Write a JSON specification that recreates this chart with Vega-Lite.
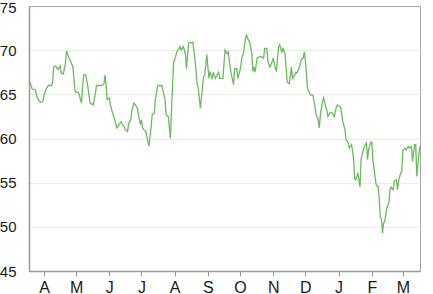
{
  "$schema": "https://vega.github.io/schema/vega-lite/v6.json",
  "width": 391,
  "height": 265,
  "autosize": {"type": "none"},
  "padding": {"left": 29, "top": 6, "right": 13, "bottom": 23},
  "background": "white",
  "config": {
    "view": {"stroke": "#a8a8a8", "strokeWidth": 1},
    "axis": {"labelFont": "Liberation Sans", "labelFontSize": 16, "labelColor": "#1a1a1a"}
  },
  "data": {"values": [
    {"d": "2015-03-18", "v": 66.5}, {"d": "2015-03-19", "v": 66.3}, {"d": "2015-03-21", "v": 65.6}, {"d": "2015-03-24", "v": 65.5},
    {"d": "2015-03-25", "v": 64.9}, {"d": "2015-03-27", "v": 64.3}, {"d": "2015-03-29", "v": 64.1}, {"d": "2015-03-31", "v": 64.2},
    {"d": "2015-04-01", "v": 64.9}, {"d": "2015-04-03", "v": 65.6}, {"d": "2015-04-05", "v": 66.0}, {"d": "2015-04-08", "v": 66.0},
    {"d": "2015-04-09", "v": 66.3}, {"d": "2015-04-10", "v": 68.1}, {"d": "2015-04-12", "v": 68.2}, {"d": "2015-04-14", "v": 67.8},
    {"d": "2015-04-16", "v": 68.2}, {"d": "2015-04-17", "v": 67.4}, {"d": "2015-04-19", "v": 67.3}, {"d": "2015-04-21", "v": 68.5},
    {"d": "2015-04-22", "v": 69.9}, {"d": "2015-04-24", "v": 69.2}, {"d": "2015-04-26", "v": 68.7}, {"d": "2015-04-28", "v": 68.1},
    {"d": "2015-04-30", "v": 65.3}, {"d": "2015-05-03", "v": 65.2}, {"d": "2015-05-04", "v": 64.9}, {"d": "2015-05-06", "v": 64.0},
    {"d": "2015-05-07", "v": 65.8}, {"d": "2015-05-08", "v": 67.2}, {"d": "2015-05-10", "v": 67.2}, {"d": "2015-05-12", "v": 65.8},
    {"d": "2015-05-14", "v": 64.0}, {"d": "2015-05-17", "v": 63.8}, {"d": "2015-05-19", "v": 65.1}, {"d": "2015-05-20", "v": 66.0},
    {"d": "2015-05-25", "v": 66.0}, {"d": "2015-05-27", "v": 66.2}, {"d": "2015-05-28", "v": 67.2}, {"d": "2015-05-29", "v": 66.0},
    {"d": "2015-05-30", "v": 64.4}, {"d": "2015-06-01", "v": 64.6}, {"d": "2015-06-02", "v": 63.8}, {"d": "2015-06-04", "v": 62.9},
    {"d": "2015-06-05", "v": 62.5}, {"d": "2015-06-07", "v": 61.7}, {"d": "2015-06-08", "v": 61.2}, {"d": "2015-06-10", "v": 61.6},
    {"d": "2015-06-12", "v": 61.9}, {"d": "2015-06-13", "v": 61.6}, {"d": "2015-06-15", "v": 61.3}, {"d": "2015-06-16", "v": 61.0},
    {"d": "2015-06-18", "v": 60.8}, {"d": "2015-06-19", "v": 61.7}, {"d": "2015-06-21", "v": 62.1}, {"d": "2015-06-22", "v": 63.2},
    {"d": "2015-06-24", "v": 64.0}, {"d": "2015-06-26", "v": 63.7}, {"d": "2015-06-27", "v": 63.5}, {"d": "2015-06-29", "v": 62.1},
    {"d": "2015-06-30", "v": 61.6}, {"d": "2015-07-01", "v": 62.1}, {"d": "2015-07-02", "v": 61.2}, {"d": "2015-07-03", "v": 61.0},
    {"d": "2015-07-05", "v": 60.8}, {"d": "2015-07-06", "v": 60.2}, {"d": "2015-07-08", "v": 59.1}, {"d": "2015-07-10", "v": 61.3},
    {"d": "2015-07-11", "v": 62.7}, {"d": "2015-07-13", "v": 62.9}, {"d": "2015-07-14", "v": 64.4}, {"d": "2015-07-16", "v": 65.9},
    {"d": "2015-07-17", "v": 66.0}, {"d": "2015-07-20", "v": 66.0}, {"d": "2015-07-23", "v": 64.4}, {"d": "2015-07-24", "v": 62.7},
    {"d": "2015-07-26", "v": 62.5}, {"d": "2015-07-28", "v": 60.0}, {"d": "2015-07-29", "v": 63.2}, {"d": "2015-07-31", "v": 68.7},
    {"d": "2015-08-01", "v": 68.9}, {"d": "2015-08-03", "v": 69.8}, {"d": "2015-08-04", "v": 70.0}, {"d": "2015-08-06", "v": 70.4},
    {"d": "2015-08-07", "v": 70.0}, {"d": "2015-08-09", "v": 70.4}, {"d": "2015-08-11", "v": 69.6}, {"d": "2015-08-12", "v": 67.9},
    {"d": "2015-08-14", "v": 70.8}, {"d": "2015-08-15", "v": 70.9}, {"d": "2015-08-17", "v": 70.8}, {"d": "2015-08-18", "v": 70.9},
    {"d": "2015-08-20", "v": 68.9}, {"d": "2015-08-22", "v": 66.1}, {"d": "2015-08-23", "v": 65.7}, {"d": "2015-08-25", "v": 63.4},
    {"d": "2015-08-26", "v": 64.7}, {"d": "2015-08-28", "v": 67.0}, {"d": "2015-08-29", "v": 67.2}, {"d": "2015-08-31", "v": 69.5},
    {"d": "2015-09-01", "v": 68.1}, {"d": "2015-09-02", "v": 66.8}, {"d": "2015-09-03", "v": 67.6}, {"d": "2015-09-05", "v": 66.7},
    {"d": "2015-09-06", "v": 67.5}, {"d": "2015-09-08", "v": 66.8}, {"d": "2015-09-11", "v": 67.5}, {"d": "2015-09-12", "v": 66.8},
    {"d": "2015-09-15", "v": 66.8}, {"d": "2015-09-17", "v": 70.0}, {"d": "2015-09-19", "v": 69.6}, {"d": "2015-09-20", "v": 69.8},
    {"d": "2015-09-22", "v": 67.9}, {"d": "2015-09-23", "v": 67.2}, {"d": "2015-09-25", "v": 66.1}, {"d": "2015-09-26", "v": 67.9},
    {"d": "2015-09-28", "v": 67.9}, {"d": "2015-09-29", "v": 66.8}, {"d": "2015-10-01", "v": 67.7}, {"d": "2015-10-03", "v": 69.3},
    {"d": "2015-10-04", "v": 69.5}, {"d": "2015-10-06", "v": 71.3}, {"d": "2015-10-07", "v": 71.7}, {"d": "2015-10-09", "v": 71.1},
    {"d": "2015-10-10", "v": 70.9}, {"d": "2015-10-12", "v": 69.6}, {"d": "2015-10-13", "v": 67.6}, {"d": "2015-10-14", "v": 68.1},
    {"d": "2015-10-15", "v": 67.5}, {"d": "2015-10-17", "v": 69.1}, {"d": "2015-10-20", "v": 69.3}, {"d": "2015-10-23", "v": 69.1},
    {"d": "2015-10-24", "v": 70.2}, {"d": "2015-10-26", "v": 70.2}, {"d": "2015-10-27", "v": 68.7}, {"d": "2015-10-29", "v": 68.1},
    {"d": "2015-10-31", "v": 68.7}, {"d": "2015-11-01", "v": 69.1}, {"d": "2015-11-03", "v": 67.9}, {"d": "2015-11-04", "v": 67.7},
    {"d": "2015-11-06", "v": 70.4}, {"d": "2015-11-07", "v": 70.6}, {"d": "2015-11-09", "v": 69.8}, {"d": "2015-11-10", "v": 70.2},
    {"d": "2015-11-12", "v": 69.6}, {"d": "2015-11-14", "v": 66.4}, {"d": "2015-11-16", "v": 66.2}, {"d": "2015-11-18", "v": 68.1},
    {"d": "2015-11-19", "v": 66.8}, {"d": "2015-11-21", "v": 67.2}, {"d": "2015-11-22", "v": 67.5}, {"d": "2015-11-23", "v": 67.4},
    {"d": "2015-11-25", "v": 67.9}, {"d": "2015-11-26", "v": 68.3}, {"d": "2015-11-27", "v": 68.9}, {"d": "2015-11-29", "v": 69.1},
    {"d": "2015-11-30", "v": 69.8}, {"d": "2015-12-01", "v": 68.9}, {"d": "2015-12-02", "v": 67.2}, {"d": "2015-12-03", "v": 65.7},
    {"d": "2015-12-05", "v": 65.1}, {"d": "2015-12-06", "v": 64.9}, {"d": "2015-12-08", "v": 64.9}, {"d": "2015-12-10", "v": 63.6},
    {"d": "2015-12-11", "v": 62.7}, {"d": "2015-12-13", "v": 62.1}, {"d": "2015-12-14", "v": 61.2}, {"d": "2015-12-15", "v": 62.7},
    {"d": "2015-12-17", "v": 64.2}, {"d": "2015-12-18", "v": 64.6}, {"d": "2015-12-20", "v": 63.6}, {"d": "2015-12-21", "v": 63.3},
    {"d": "2015-12-22", "v": 62.5}, {"d": "2015-12-24", "v": 62.9}, {"d": "2015-12-26", "v": 62.9}, {"d": "2015-12-28", "v": 62.5},
    {"d": "2015-12-30", "v": 63.6}, {"d": "2015-12-31", "v": 63.8}, {"d": "2016-01-02", "v": 63.6}, {"d": "2016-01-03", "v": 63.5},
    {"d": "2016-01-05", "v": 61.9}, {"d": "2016-01-07", "v": 61.0}, {"d": "2016-01-08", "v": 59.8}, {"d": "2016-01-10", "v": 59.5},
    {"d": "2016-01-11", "v": 58.9}, {"d": "2016-01-13", "v": 59.3}, {"d": "2016-01-14", "v": 58.7}, {"d": "2016-01-15", "v": 57.6},
    {"d": "2016-01-16", "v": 55.5}, {"d": "2016-01-17", "v": 55.3}, {"d": "2016-01-19", "v": 56.1}, {"d": "2016-01-20", "v": 55.3},
    {"d": "2016-01-21", "v": 54.5}, {"d": "2016-01-22", "v": 57.6}, {"d": "2016-01-24", "v": 58.7}, {"d": "2016-01-25", "v": 59.1},
    {"d": "2016-01-27", "v": 59.5}, {"d": "2016-01-28", "v": 57.6}, {"d": "2016-01-29", "v": 58.7}, {"d": "2016-01-31", "v": 59.6},
    {"d": "2016-02-01", "v": 59.6}, {"d": "2016-02-02", "v": 57.6}, {"d": "2016-02-04", "v": 55.7}, {"d": "2016-02-05", "v": 54.8},
    {"d": "2016-02-07", "v": 54.5}, {"d": "2016-02-08", "v": 53.1}, {"d": "2016-02-09", "v": 51.1}, {"d": "2016-02-10", "v": 50.9},
    {"d": "2016-02-11", "v": 49.3}, {"d": "2016-02-12", "v": 50.4}, {"d": "2016-02-13", "v": 50.6}, {"d": "2016-02-15", "v": 52.1},
    {"d": "2016-02-17", "v": 52.8}, {"d": "2016-02-18", "v": 54.2}, {"d": "2016-02-19", "v": 54.5}, {"d": "2016-02-21", "v": 54.2},
    {"d": "2016-02-22", "v": 55.2}, {"d": "2016-02-24", "v": 55.3}, {"d": "2016-02-25", "v": 54.2}, {"d": "2016-02-26", "v": 55.2},
    {"d": "2016-02-28", "v": 56.1}, {"d": "2016-02-29", "v": 56.3}, {"d": "2016-03-01", "v": 58.7}, {"d": "2016-03-03", "v": 58.9},
    {"d": "2016-03-04", "v": 58.7}, {"d": "2016-03-06", "v": 59.1}, {"d": "2016-03-07", "v": 58.9}, {"d": "2016-03-09", "v": 59.1},
    {"d": "2016-03-10", "v": 57.4}, {"d": "2016-03-12", "v": 59.3}, {"d": "2016-03-13", "v": 59.3}, {"d": "2016-03-14", "v": 55.7},
    {"d": "2016-03-16", "v": 58.3}, {"d": "2016-03-17", "v": 59.1}
  ]},
  "mark": {"type": "line", "color": "#6cba60", "strokeWidth": 1.3},
  "encoding": {
    "x": {
      "field": "d",
      "type": "temporal",
      "scale": {
        "type": "utc",
        "domain": [
          {"year": 2015, "month": 3, "date": 18, "utc": true},
          {"year": 2016, "month": 3, "date": 17, "utc": true}
        ]
      },
      "axis": {
        "title": null,
        "grid": false,
        "tickCount": {"interval": "month", "step": 1},
        "labelExpr": "slice(utcFormat(datum.value, '%b'), 0, 1)",
        "labelFlush": false,
        "labelOverlap": false,
        "domainColor": "#999999",
        "domainWidth": 1.5,
        "tickColor": "#999999",
        "tickSize": 5,
        "labelPadding": 3
      }
    },
    "y": {
      "field": "v",
      "type": "quantitative",
      "scale": {"domain": [45, 75], "nice": false, "zero": false},
      "axis": {
        "title": null,
        "values": [45, 50, 55, 60, 65, 70, 75],
        "ticks": false,
        "labelFontSize": 15,
        "labelPadding": 13,
        "labelOffset": {"condition": {"test": "datum.value == 75", "value": 1}, "value": 0},
        "gridColor": "#ebebeb",
        "gridOpacity": {"condition": {"test": "datum.value == 75 || datum.value == 45", "value": 0}, "value": 1},
        "domainColor": "#999999",
        "domainWidth": 1.5
      }
    }
  }
}
